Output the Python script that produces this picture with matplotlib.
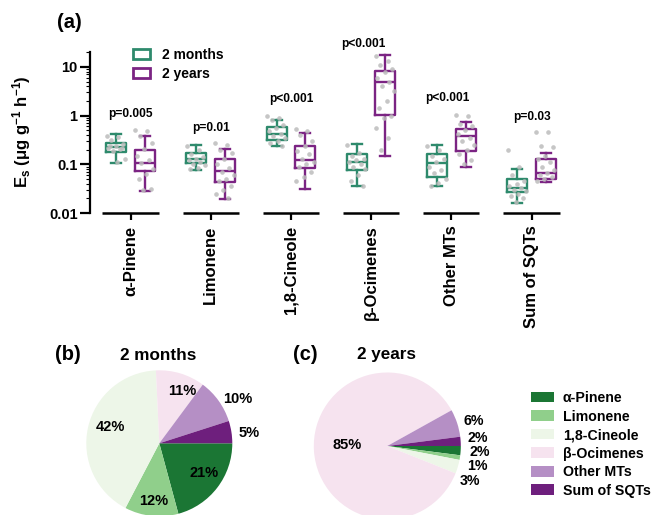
import numpy as np
import matplotlib
matplotlib.use('Agg')
import matplotlib.pyplot as plt
from matplotlib.patches import Patch

plt.rcParams['font.family'] = ['Liberation Sans', 'DejaVu Sans']
plt.rcParams['font.weight'] = 'bold'
plt.rcParams['mathtext.fontset'] = 'custom'
plt.rcParams['mathtext.rm'] = 'Liberation Sans:bold'
plt.rcParams['mathtext.bf'] = 'Liberation Sans:bold'
plt.rcParams['mathtext.it'] = 'Liberation Sans:bold'

# ---------------- data ----------------
categories = ['α-Pinene', 'Limonene', '1,8-Cineole', 'β-Ocimenes', 'Other MTs', 'Sum of SQTs']
series_names = ['2 months', '2 years']

m2_whislo = [0.105, 0.077, 0.24, 0.036, 0.035, 0.016]
m2_q1 = [0.18, 0.105, 0.32, 0.077, 0.056, 0.027]
m2_med = [0.225, 0.13, 0.41, 0.113, 0.108, 0.032]
m2_q3 = [0.28, 0.168, 0.59, 0.16, 0.165, 0.049]
m2_whishi = [0.41, 0.244, 0.83, 0.256, 0.244, 0.079]

y2_whislo = [0.028, 0.019, 0.031, 0.148, 0.09, 0.043]
y2_q1 = [0.073, 0.044, 0.082, 1.01, 0.187, 0.051]
y2_med = [0.105, 0.073, 0.122, 5.0, 0.38, 0.065]
y2_q3 = [0.2, 0.126, 0.24, 8.4, 0.53, 0.126]
y2_whishi = [0.39, 0.21, 0.43, 17.6, 0.73, 0.168]

m2_points = [
    [0.39, 0.356, 0.31, 0.256, 0.233, 0.212, 0.203, 0.184, 0.126, 0.11, 0.24, 0.22],
    [0.24, 0.2, 0.16, 0.14, 0.13, 0.12, 0.11, 0.1, 0.095, 0.085, 0.08],
    [1.0, 0.9, 0.8, 0.65, 0.55, 0.48, 0.42, 0.38, 0.34, 0.3, 0.27, 0.24],
    [0.25, 0.17, 0.15, 0.13, 0.12, 0.11, 0.1, 0.09, 0.08, 0.06, 0.045, 0.036],
    [0.24, 0.2, 0.15, 0.13, 0.11, 0.09, 0.075, 0.065, 0.05, 0.042, 0.036],
    [0.2, 0.09, 0.06, 0.045, 0.04, 0.035, 0.032, 0.03, 0.028, 0.025, 0.022, 0.02, 0.017],
]
y2_points = [
    [0.5, 0.48, 0.378, 0.277, 0.203, 0.148, 0.12, 0.108, 0.079, 0.0625, 0.05, 0.031, 0.03],
    [0.28, 0.25, 0.2, 0.17, 0.13, 0.1, 0.085, 0.07, 0.06, 0.05, 0.045, 0.035, 0.03, 0.025, 0.02],
    [0.52, 0.48, 0.4, 0.3, 0.24, 0.19, 0.16, 0.13, 0.11, 0.1, 0.09, 0.07, 0.055, 0.045],
    [17, 13, 11, 9, 8, 6, 5, 4, 3.2, 2, 1.4, 1.0, 0.9, 0.55, 0.35, 0.2],
    [1.05, 1.0, 0.68, 0.6, 0.5, 0.42, 0.35, 0.3, 0.25, 0.2, 0.16, 0.12, 0.1],
    [0.47, 0.45, 0.24, 0.23, 0.15, 0.13, 0.11, 0.09, 0.075, 0.065, 0.06, 0.055, 0.05, 0.045],
]
p_values = ['p=0.005', 'p=0.01', 'p<0.001', 'p<0.001', 'p<0.001', 'p=0.03']

pie_2months = [21, 12, 42, 11, 10, 5]
pie_2years = [2, 1, 3, 85, 6, 2]

# ---------------- styles ----------------
c_m2 = '#2e8a6c'
c_y2 = '#7b2483'
pie_colors = ['#1b7634', '#90cf8b', '#edf6e8', '#f6e3ef', '#b58fc5', '#6e1f7d']
pt_color = '#bcbcbc'

W, H = 654, 515
def fx(x):
    return x / W
def fy(y):
    return 1 - y / H

fig = plt.figure(figsize=(W / 100, H / 100), dpi=100)

# ---------------- panel (a) ----------------
ax = fig.add_axes([fx(90), fy(213), (571.6 - 90) / W, (213 - 52) / H])
ax.set_yscale('log')
ax.set_ylim(0.01, 20.2)
ax.set_xlim(-0.505, 5.5)
xpos = np.arange(len(categories))
off = 0.178

def stats(lo, q1, med, q3, hi):
    return [dict(whislo=a, q1=b, med=c, q3=d, whishi=e, fliers=[])
            for a, b, c, d, e in zip(lo, q1, med, q3, hi)]

for st, pos, col in [(stats(m2_whislo, m2_q1, m2_med, m2_q3, m2_whishi), xpos - off, c_m2),
                     (stats(y2_whislo, y2_q1, y2_med, y2_q3, y2_whishi), xpos + off, c_y2)]:
    lp = dict(color=col, linewidth=1.7)
    ax.bxp(st, positions=pos, widths=0.25, showfliers=False, manage_ticks=False,
           boxprops=lp, medianprops=lp, whiskerprops=lp, capprops=lp)

for pts_all, sgn in [(m2_points, -1), (y2_points, 1)]:
    for i, pts in enumerate(pts_all):
        n = len(pts)
        jit = ((np.arange(n) * 0.6180339) % 1 - 0.5) * 0.24
        ax.scatter(xpos[i] + sgn * off + jit, pts, s=11, color=pt_color, alpha=0.85,
                   linewidths=0, zorder=3)

p_dx = [0, 0, 0, -0.1, -0.05, 0]
p_off = [11.4, 10.8, 12.2, 8.4, 12.2, 10.8]
for i, p in enumerate(p_values):
    top = max(max(m2_points[i]), max(y2_points[i]))
    ax.annotate(p, xy=(xpos[i] + p_dx[i], top), xytext=(0, p_off[i]),
                textcoords='offset points', ha='center', va='center',
                fontsize=8.6, fontweight='bold', annotation_clip=False)

for s in ['top', 'right', 'bottom']:
    ax.spines[s].set_visible(False)
ax.spines['left'].set_linewidth(1.6)
for i in xpos:
    ax.plot([i - 0.35, i + 0.35], [0.01, 0.01], color='k', lw=1.8, clip_on=False,
            solid_capstyle='butt')
ax.set_xticks(xpos)
ax.set_xticklabels(categories, rotation=90, fontsize=12, fontweight='bold')
ax.set_yticks([0.01, 0.1, 1, 10])
ax.set_yticklabels(['0.01', '0.1', '1', '10'], fontsize=10.5, fontweight='bold')
ax.tick_params(axis='x', length=5, width=1.6, pad=4)
ax.tick_params(axis='y', which='major', length=7, width=1.6, pad=2)
ax.tick_params(axis='y', which='minor', length=3, width=0.8)

ax.legend([Patch(facecolor='white', edgecolor=c_m2, linewidth=2),
           Patch(facecolor='white', edgecolor=c_y2, linewidth=2)], series_names,
          loc='upper left', bbox_to_anchor=(fx(133), fy(48)), bbox_transform=fig.transFigure,
          frameon=False, borderpad=0, borderaxespad=0, handlelength=1.22, handleheight=0.72,
          handletextpad=0.85, labelspacing=0.35, prop=dict(size=10, weight='bold'))

fig.text(fx(22), fy(132), r'E$_{\mathrm{s}}$ ($\mathrm{\mu}$g g$^{\mathrm{-1}}$ h$^{\mathrm{-1}}$)',
         rotation=90, ha='center', va='center', fontsize=12, fontweight='bold')
fig.text(fx(69), fy(23), '(a)', ha='center', va='center', fontsize=14.5, fontweight='bold')

# ---------------- pies ----------------
def draw_pie(cx, cy, r, vals, rads, angs, fsz):
    S = 2.5 * r
    pa = fig.add_axes([fx(cx - S / 2), fy(cy + S / 2), S / W, S / H])
    wedges, _ = pa.pie(vals, colors=pie_colors, startangle=0, counterclock=False,
                       wedgeprops=dict(linewidth=0))
    pa.set_xlim(-1.25, 1.25)
    pa.set_ylim(-1.25, 1.25)
    pa.set_aspect('equal')
    for k, w in enumerate(wedges):
        a = np.deg2rad(angs[k])
        pa.text(rads[k] * np.cos(a), rads[k] * np.sin(a), f'{vals[k]}%',
                ha='center', va='center', fontsize=fsz[k], fontweight='bold', clip_on=False)
    return pa

draw_pie(159.3, 443.3, 73, pie_2months, [0.74, 0.8, 0.70, 0.78, 1.23, 1.24],
         [-33.6, -96, 161.4, 66.5, 29.7, 6.5], [10.5] * 6)
draw_pie(387.3, 446, 73.5, pie_2years, [1.26, 1.25, 1.22, 0.54, 1.23, 1.24],
         [-3.7, -12.8, -23.2, 178.5, 16, 5], [10.2, 10.2, 10.2, 10.5, 10.2, 10.2])

fig.text(fx(68), fy(355), '(b)', ha='center', va='center', fontsize=14.5, fontweight='bold')
fig.text(fx(158), fy(355), '2 months', ha='center', va='center', fontsize=12.3, fontweight='bold')
fig.text(fx(305), fy(355), '(c)', ha='center', va='center', fontsize=14.5, fontweight='bold')
fig.text(fx(386.5), fy(355), '2 years', ha='center', va='center', fontsize=12.3, fontweight='bold')

fig.legend([Patch(facecolor=c, edgecolor='none') for c in pie_colors], categories,
           loc='upper left', bbox_to_anchor=(fx(531), fy(391)), bbox_transform=fig.transFigure,
           frameon=False, borderpad=0, borderaxespad=0, handlelength=1.62, handleheight=0.78,
           handletextpad=0.63, labelspacing=0.32, prop=dict(size=10.2, weight='bold'))

fig.savefig('out.png', dpi=100)
